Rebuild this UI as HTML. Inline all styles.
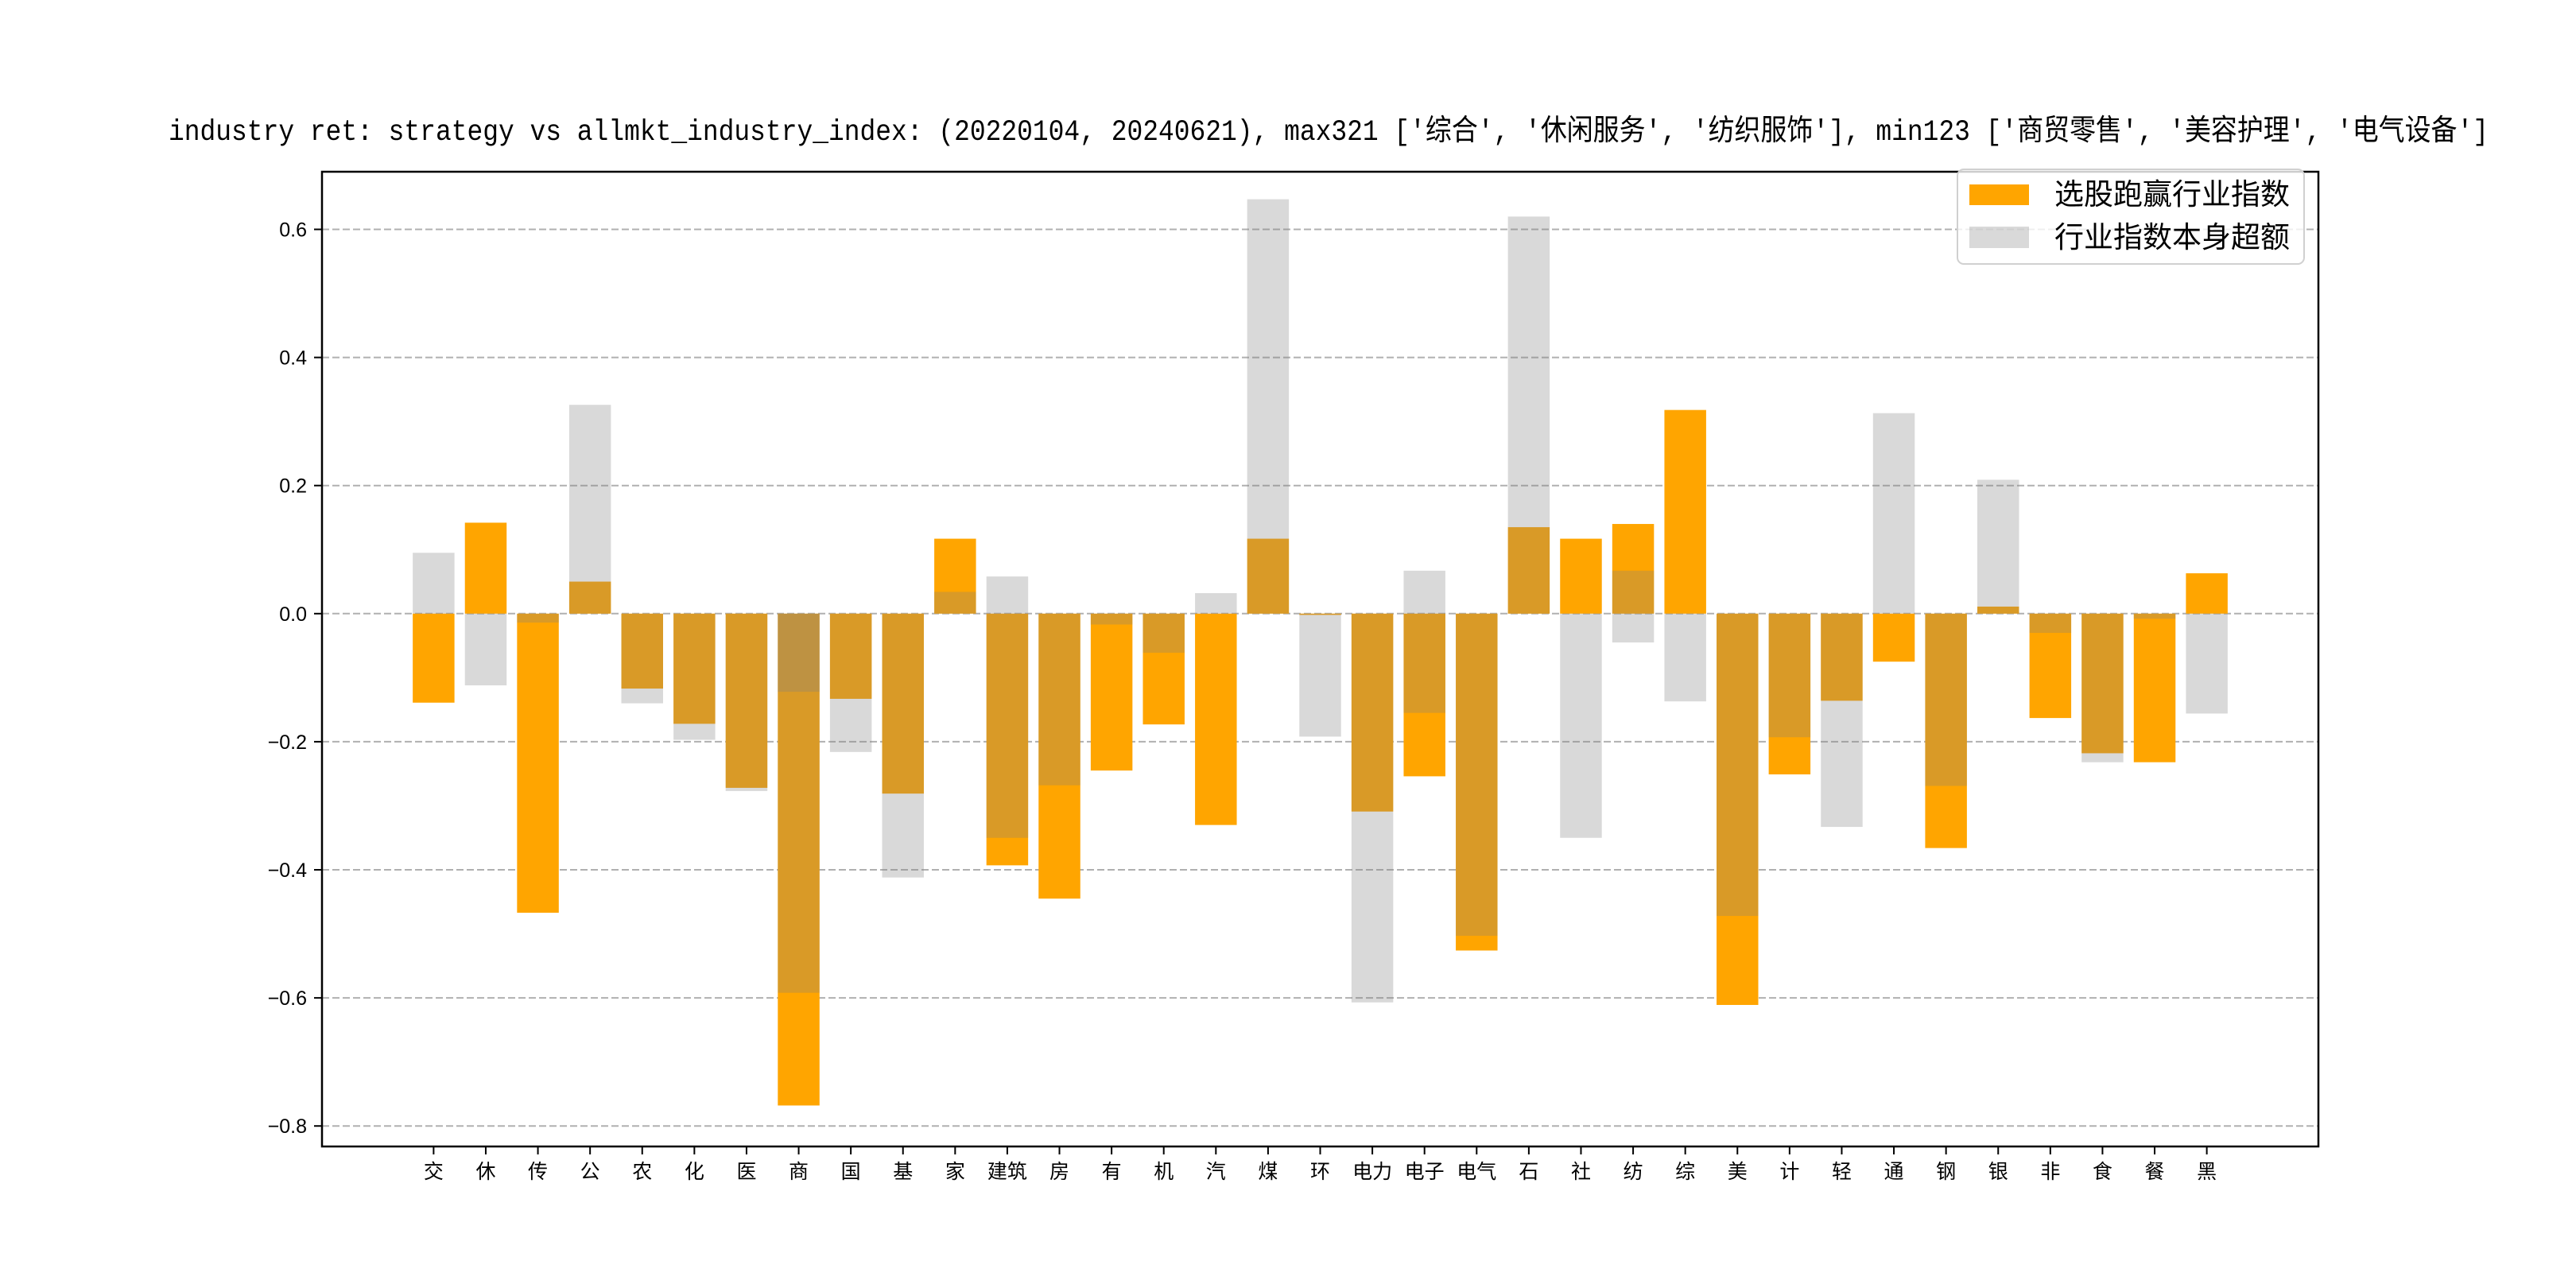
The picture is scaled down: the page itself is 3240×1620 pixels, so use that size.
<!DOCTYPE html>
<html><head><meta charset="utf-8"><style>
html,body{margin:0;padding:0;background:#fff;}
svg{display:block;}
text{font-family:"Liberation Sans","Noto Sans CJK SC",sans-serif;fill:#000;}
</style></head><body>
<svg id="chart" width="3240" height="1620" viewBox="0 0 3240 1620" xmlns="http://www.w3.org/2000/svg">
<rect width="3240" height="1620" fill="#fff"/>
<text x="212" y="176" font-size="37" textLength="2918" lengthAdjust="spacingAndGlyphs" style="font-family:'Liberation Mono','Noto Sans CJK SC',monospace">industry ret: strategy vs allmkt_industry_index: (20220104, 20240621), max321 ['综合', '休闲服务', '纺织服饰'], min123 ['商贸零售', '美容护理', '电气设备']</text>
<g id="grid"></g>
<g id="bars"></g>
<g id="axes"></g>
<g id="legend">
  <rect x="2462" y="213" width="436" height="119" rx="8" fill="#fff" fill-opacity="0.8" stroke="#d0d0d0" stroke-width="2"/>
  <rect x="2477" y="232" width="75" height="26" fill="#FFA500"/>
  <text x="2584" y="257" font-size="37">选股跑赢行业指数</text>
  <rect x="2477" y="285" width="75" height="27" fill="#808080" fill-opacity="0.3"/>
  <text x="2584" y="311" font-size="37">行业指数本身超额</text>
</g>
</svg>
<script>
const categories = ['交','休','传','公','农','化','医','商','国','基','家','建筑','房','有','机','汽','煤','环','电力','电子','电气','石','社','纺','综','美','计','轻','通','钢','银','非','食','餐','黑'];
const strategyValues = [-0.139,0.142,-0.467,0.050,-0.117,-0.172,-0.272,-0.768,-0.133,-0.281,0.117,-0.393,-0.445,-0.245,-0.173,-0.330,0.117,-0.002,-0.309,-0.254,-0.526,0.135,0.117,0.140,0.318,-0.611,-0.251,-0.136,-0.075,-0.366,0.011,-0.163,-0.218,-0.232,0.063];
const indexValues = [0.095,-0.112,-0.014,0.326,-0.140,-0.197,-0.277,-0.592,-0.216,-0.412,0.034,0.058,-0.268,-0.017,-0.061,0.032,0.647,-0.192,-0.607,0.067,-0.503,0.620,-0.350,0.067,-0.137,-0.472,-0.193,-0.333,0.313,-0.269,0.209,-0.030,-0.232,-0.008,-0.156];
const indexValuesDup = [0,0,0,0,0,0,0,-0.122,0,0,0,-0.350,0,0,0,0,0,0,0,-0.155,0,0,0,-0.045,0,0,0,0,0,0,0,0,0,0,0];
const yTicks = [-0.8,-0.6,-0.4,-0.2,0.0,0.2,0.4,0.6];
const yTickLabels = ['−0.8','−0.6','−0.4','−0.2','0.0','0.2','0.4','0.6'];

const L=405,R=2916,T=216,B=1442;
const yMin=-0.832,yMax=0.690;
const xMin=-2.14,xMax=36.14;
const NS='http://www.w3.org/2000/svg';
function X(i){return L+(i-xMin)/(xMax-xMin)*(R-L);}
function Y(v){return B-(v-yMin)/(yMax-yMin)*(B-T);}
function mk(tag,attrs,parent){const e=document.createElementNS(NS,tag);for(const k in attrs)e.setAttribute(k,attrs[k]);parent.appendChild(e);return e;}
const grid=document.getElementById('grid'),bars=document.getElementById('bars'),axes=document.getElementById('axes');
const bw=0.8*(R-L)/(xMax-xMin);

yTicks.forEach((v,k)=>{
  const g=mk('line',{x1:L,x2:R,y1:Y(v),y2:Y(v),stroke:'#b0b0b0','stroke-width':2,'stroke-dasharray':'9,4'},grid);
  
  
  const t=mk('line',{x1:L-10,x2:L,y1:Y(v),y2:Y(v),stroke:'#000','stroke-width':2},axes);
  
  
  const lb=mk('text',{x:L-19,y:Y(v)+9,'font-size':25,'text-anchor':'end'},axes);
  lb.textContent=yTickLabels[k];
  
  
});

function bar(i,v,fill,op,name){
  const y0=Y(0),y1=Y(v);
  const r=mk('rect',{x:X(i)-bw/2,y:Math.min(y0,y1),width:bw,height:Math.abs(y1-y0),fill:fill,'fill-opacity':op},bars);
  
  
}
categories.forEach((c,i)=>{bar(i,strategyValues[i],'#FFA500',1,'strategy-bar-'+i);});
categories.forEach((c,i)=>{bar(i,indexValues[i],'#808080',0.3,'index-bar-'+i);});
categories.forEach((c,i)=>{if(indexValuesDup[i]!==0)bar(i,indexValuesDup[i],'#808080',0.3,'index-bar-dup-'+i);});

categories.forEach((c,i)=>{
  const t=mk('line',{x1:X(i),x2:X(i),y1:B,y2:B+10,stroke:'#000','stroke-width':2},axes);
  
  
  const lb=mk('text',{x:X(i),y:B+40,'font-size':25,'text-anchor':'middle'},axes);
  lb.textContent=c;
  
  
});
const frame=mk('rect',{x:L,y:T,width:R-L,height:B-T,fill:'none',stroke:'#000','stroke-width':2.5},axes);


</script>
</body></html>
